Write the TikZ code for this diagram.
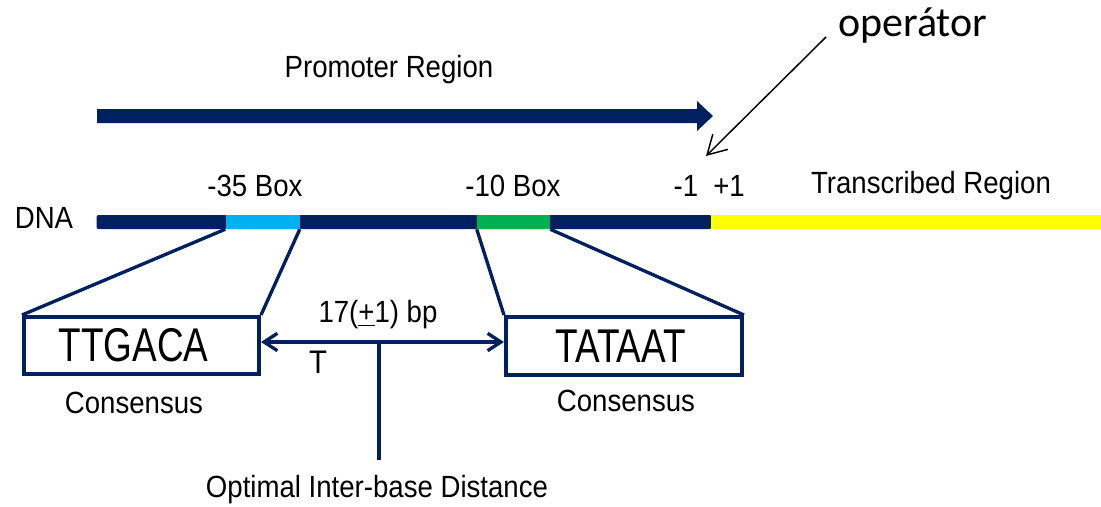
\documentclass[tikz,border=0pt]{standalone}
\usepackage{fontspec}
\setmainfont{Liberation Sans}[FakeStretch=0.9]
\newfontfamily\bigfam{Liberation Sans}[FakeStretch=0.78]
\newfontfamily\calib{Carlito}
\usetikzlibrary{arrows.meta}
\definecolor{navy}{HTML}{002060}
\definecolor{lblue}{HTML}{00B0F0}
\definecolor{gbox}{HTML}{00B050}
\definecolor{ylw}{HTML}{FFFF00}
\tikzset{
  lbl/.style={font=\fontsize{23}{27}\selectfont, inner sep=0pt},
  big/.style={font=\bigfam\fontsize{35.5}{40}\selectfont},
  cbox/.style={draw=navy, line width=3pt, inner sep=0pt, big},
  seg/.style={inner sep=0pt, minimum height=10.5pt},
  conn/.style={draw=navy, line width=2.5pt},
  navybarb/.tip={Straight Barb[length=10pt,width=13pt,line width=2.5pt]},
}
\begin{document}
\begin{tikzpicture}[x=0.75pt,y=-0.75pt]
\useasboundingbox (0,0) rectangle (1101,507);
% promoter arrow
\fill[navy] (97,109) -- (697,109) -- (697,101) -- (713,116) -- (697,131) -- (697,123) -- (97,123) -- cycle;
\node[lbl] (prom) at (389,70) {Promoter Region};
% operator
\node[font=\calib\fontsize{31.5}{36}\selectfont, inner sep=0pt, anchor=base west] (op) at (838,36) {operátor};
\coordinate (optip) at (706,156);
\draw[line width=1.1pt, -{Straight Barb[length=14pt,width=16pt,line width=1.1pt]}] (826,37) -- (optip);
% DNA bar
\node[seg, fill=navy, minimum width=461.25pt, rounded corners=1.5pt] (dark) at (404,222) {};
\node[seg, fill=ylw, minimum width=292.5pt] (yel) at (906,222) {};
\node[seg, fill=lblue, minimum width=55.5pt] (s35) at (262.5,222) {};
\node[seg, fill=gbox, minimum width=54.75pt] (s10) at (513.5,222) {};
\node[lbl] (dna) at (44,218) {DNA};
\node[lbl] (l35) at (255,186) {-35 Box};
\node[lbl] (l10) at (513,186) {-10 Box};
\node[lbl] (m1) at (686,186) {-1};
\node[lbl] (p1) at (729,186) {+1};
\node[lbl] (tr) at (931,186) {Transcribed Region};
% consensus boxes
\node[cbox, minimum width=176.25pt, minimum height=42.75pt] (b35) at (141.5,345.5) {\hspace*{-12pt}TTGACA};
\node[cbox, minimum width=177pt, minimum height=43.5pt] (b10) at (624,346) {\hspace*{-5pt}TATAAT};
\node[lbl] (c35) at (134,403) {Consensus};
\node[lbl] (c10) at (626,401) {Consensus};
\draw[conn] (s35.south west) -- (b35.north west);
\draw[conn] (s35.south east) -- (b35.north east);
\draw[conn] (s10.south west) -- (b10.north west);
\draw[conn] (s10.south east) -- (b10.north east);
% distance
\coordinate (vtop) at (379,342);
\draw[conn, {navybarb}-{navybarb}] (b35.east |- vtop) -- (b10.west |- vtop);
\node[lbl] (dist) at (378,315) {17(\underline{+}1) bp};
\node[font=\fontsize{24.5}{28}\selectfont, inner sep=0pt] (t) at (318,362) {T};
\node[lbl] (opt) at (377,490) {Optimal Inter-base Distance};
\draw[conn] (vtop) -- (379,460);
\end{tikzpicture}
\end{document}
